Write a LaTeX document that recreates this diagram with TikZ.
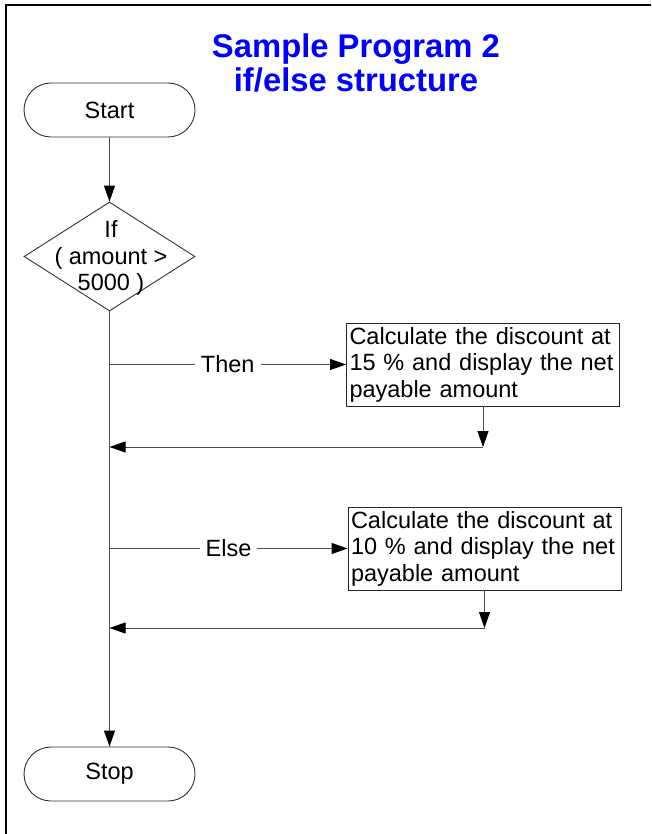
\documentclass[tikz,border=0pt]{standalone}
\usepackage{fontspec}
\setmainfont{Liberation Sans}
\usetikzlibrary{shapes.geometric,arrows.meta}
\begin{document}
\begin{tikzpicture}[x=1pt,y=-1pt,
  every node/.style={font=\fontsize{23.5}{26.5}\selectfont},
  ln/.style={draw=black!70, line width=1pt},
  arr/.style={ln, -{Triangle[length=16pt,width=11pt,color=black]}},
  term/.style={draw=black!80, line width=0.9pt, rounded corners=27pt, minimum width=171pt, minimum height=54pt, inner sep=0pt},
  dec/.style={draw=black!80, line width=0.9pt, diamond, minimum width=171pt, minimum height=109pt, inner sep=0pt},
  proc/.style={draw=black!85, line width=0.9pt, minimum height=83pt, text width=267pt, inner sep=3pt, align=left},
  lbl/.style={fill=white, inner sep=6pt}
]
\useasboundingbox (0,0) rectangle (651,834);
\fill[white] (0,0) rectangle (651,834);
\draw[line width=2.5pt] (6,834) -- (6,5) -- (651,5);

\node[align=center, text=blue, font=\fontsize{32.8}{33.5}\selectfont\bfseries] (title) at (356,63) {Sample Program 2\\if/else structure};

\node[term] (start) at (109.5,110) {Start};
\node[dec] (if) at (109.5,256.5) {};
\node[align=center, inner sep=0pt] (iftext) at (111,258) {If\\( amount >\\5000 )};
\node[proc] (b1) at (483,364.5) {Calculate the discount at 15 \% and display the net payable amount};
\node[proc] (b2) at (484.5,548.5) {Calculate the discount at 10 \% and display the net payable amount};
\node[term] (stop) at (109.5,774) {Stop};

\draw[arr] (start) -- (if);
\draw[arr] (if) -- (stop);

\draw[arr] (start |- b1.west) -- node[lbl] {Then} (b1.west);
\coordinate (r1) at (b1.south |- 0,447);
\draw[arr] (b1.south) -- (r1);
\draw[arr] (r1) -- (r1 -| start);

\draw[arr] (start |- b2.west) -- node[lbl] {Else} (b2.west);
\coordinate (r2) at (b2.south |- 0,628);
\draw[arr] (b2.south) -- (r2);
\draw[arr] (r2) -- (r2 -| start);
\end{tikzpicture}
\end{document}
